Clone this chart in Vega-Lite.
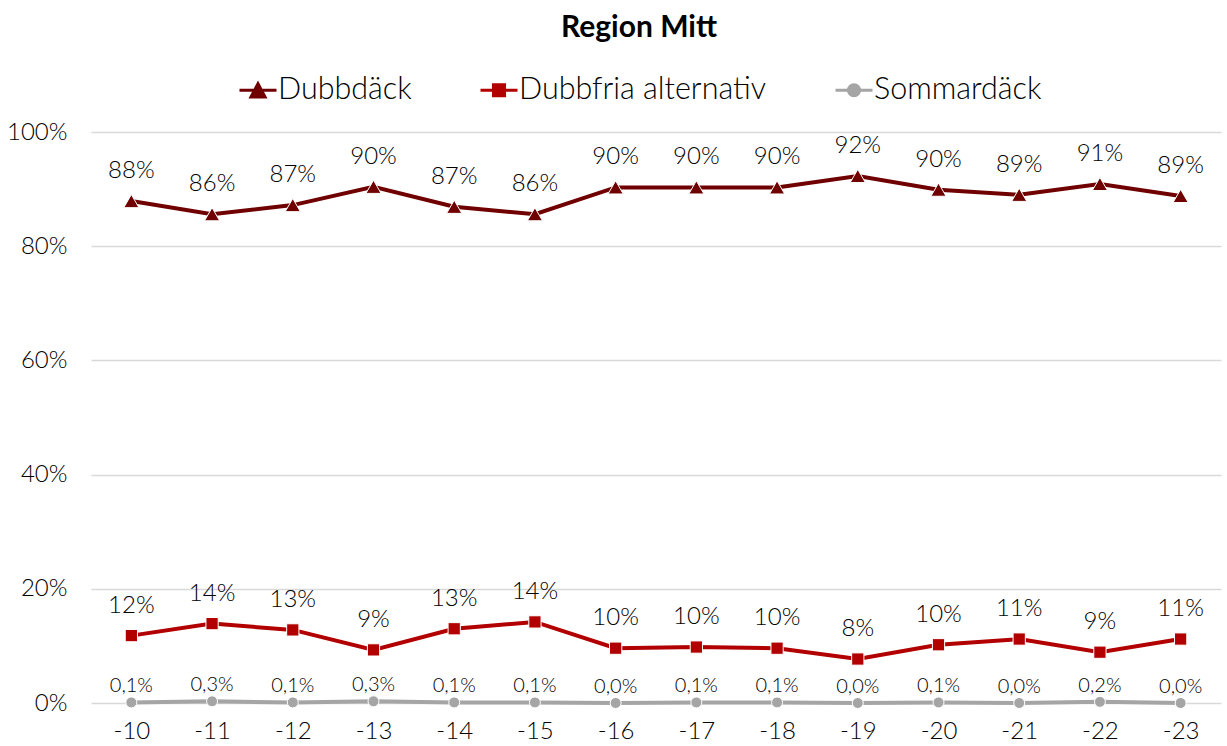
{
  "$schema": "https://vega.github.io/schema/vega-lite/v6.json",
  "width": 1130,
  "height": 571,
  "autosize": "none",
  "padding": {"left": 91, "top": 132, "right": 6, "bottom": 43},
  "background": "white",
  "config": {
    "locale": {"number": {"decimal": ",", "thousands": " ", "grouping": [3], "currency": ["", " kr"]}},
    "view": {"stroke": null},
    "font": "Lato"
  },
  "title": {
    "text": "Region Mitt",
    "fontSize": 30,
    "fontWeight": "bold",
    "font": "Lato",
    "color": "#000000",
    "anchor": "middle",
    "frame": "group",
    "dx": -17,
    "offset": 27
  },
  "data": {
    "values": [
      {"period": "-10", "series": "Dubbdäck", "value": 0.879},
      {"period": "-11", "series": "Dubbdäck", "value": 0.856},
      {"period": "-12", "series": "Dubbdäck", "value": 0.872},
      {"period": "-13", "series": "Dubbdäck", "value": 0.904},
      {"period": "-14", "series": "Dubbdäck", "value": 0.869},
      {"period": "-15", "series": "Dubbdäck", "value": 0.856},
      {"period": "-16", "series": "Dubbdäck", "value": 0.903},
      {"period": "-17", "series": "Dubbdäck", "value": 0.903},
      {"period": "-18", "series": "Dubbdäck", "value": 0.903},
      {"period": "-19", "series": "Dubbdäck", "value": 0.923},
      {"period": "-20", "series": "Dubbdäck", "value": 0.899},
      {"period": "-21", "series": "Dubbdäck", "value": 0.890},
      {"period": "-22", "series": "Dubbdäck", "value": 0.909},
      {"period": "-23", "series": "Dubbdäck", "value": 0.888},
      {"period": "-10", "series": "Dubbfria alternativ", "value": 0.118},
      {"period": "-11", "series": "Dubbfria alternativ", "value": 0.139},
      {"period": "-12", "series": "Dubbfria alternativ", "value": 0.128},
      {"period": "-13", "series": "Dubbfria alternativ", "value": 0.093},
      {"period": "-14", "series": "Dubbfria alternativ", "value": 0.130},
      {"period": "-15", "series": "Dubbfria alternativ", "value": 0.142},
      {"period": "-16", "series": "Dubbfria alternativ", "value": 0.096},
      {"period": "-17", "series": "Dubbfria alternativ", "value": 0.098},
      {"period": "-18", "series": "Dubbfria alternativ", "value": 0.096},
      {"period": "-19", "series": "Dubbfria alternativ", "value": 0.077},
      {"period": "-20", "series": "Dubbfria alternativ", "value": 0.102},
      {"period": "-21", "series": "Dubbfria alternativ", "value": 0.112},
      {"period": "-22", "series": "Dubbfria alternativ", "value": 0.089},
      {"period": "-23", "series": "Dubbfria alternativ", "value": 0.112},
      {"period": "-10", "series": "Sommardäck", "value": 0.001},
      {"period": "-11", "series": "Sommardäck", "value": 0.003},
      {"period": "-12", "series": "Sommardäck", "value": 0.001},
      {"period": "-13", "series": "Sommardäck", "value": 0.003},
      {"period": "-14", "series": "Sommardäck", "value": 0.001},
      {"period": "-15", "series": "Sommardäck", "value": 0.001},
      {"period": "-16", "series": "Sommardäck", "value": 0.0},
      {"period": "-17", "series": "Sommardäck", "value": 0.001},
      {"period": "-18", "series": "Sommardäck", "value": 0.001},
      {"period": "-19", "series": "Sommardäck", "value": 0.0},
      {"period": "-20", "series": "Sommardäck", "value": 0.001},
      {"period": "-21", "series": "Sommardäck", "value": 0.0},
      {"period": "-22", "series": "Sommardäck", "value": 0.002},
      {"period": "-23", "series": "Sommardäck", "value": 0.0}
    ]
  },
  "encoding": {
    "x": {
      "field": "period",
      "type": "ordinal",
      "scale": {"type": "point", "padding": 0.5, "domain": ["-10","-11","-12","-13","-14","-15","-16","-17","-18","-19","-20","-21","-22","-23"]},
      "axis": {"title": null, "domain": false, "ticks": false, "grid": false, "labelAngle": 0, "labelFontSize": 24, "labelFontWeight": 300, "labelColor": "#000000", "labelPadding": 16, "labelFont": "Lato"}
    },
    "y": {
      "field": "value",
      "type": "quantitative",
      "scale": {"domain": [0, 1], "nice": false},
      "axis": {"title": null, "domain": false, "ticks": false, "values": [0, 0.2, 0.4, 0.6, 0.8, 1], "format": ".0%", "gridColor": "#D9D9D9", "gridWidth": 1.3, "labelFontSize": 24, "labelFontWeight": 300, "labelColor": "#000000", "labelPadding": 24, "labelFont": "Lato"}
    },
    "color": {
      "field": "series",
      "type": "nominal",
      "scale": {"domain": ["Dubbdäck", "Dubbfria alternativ", "Sommardäck"], "range": ["#700000", "#B20000", "#A5A5A5"]},
      "legend": {
        "title": null,
        "orient": "none",
        "legendX": 147,
        "legendY": -62,
        "direction": "horizontal",
        "padding": 0,
        "symbolSize": 1369,
        "labelFontSize": 30.5,
        "labelFontWeight": 300,
        "labelFont": "Lato",
        "labelColor": "#000000",
        "labelOffset": 0,
        "labelLimit": 500,
        "columnPadding": 62,
        "symbolStrokeWidth": 3,
        "encode": {
          "symbols": {
            "update": {
              "shape": {"signal": "datum.value === 'Dubbdäck' ? 'M-1,0H1M-0.38,0.36L0,-0.36L0.38,0.36Z' : datum.value === 'Dubbfria alternativ' ? 'M-1,0H1M-0.3,-0.3H0.3V0.3H-0.3Z' : 'M-1,0H1M-0.3,0A0.3,0.3,0,1,0,0.3,0A0.3,0.3,0,1,0,-0.3,0Z'"},
              "fill": {"signal": "scale('color', datum.value)"},
              "stroke": {"signal": "scale('color', datum.value)"},
              "strokeWidth": {"value": 3},
              "opacity": {"value": 1}
            }
          }
        }
      }
    }
  },
  "layer": [
    {
      "mark": {"type": "line", "strokeWidth": 4}
    },
    {
      "transform": [{"filter": "datum.series === 'Dubbdäck'"}],
      "mark": {"type": "point", "shape": "triangle-up", "filled": true, "opacity": 1, "size": 230, "stroke": "white", "strokeWidth": 1}
    },
    {
      "transform": [{"filter": "datum.series === 'Dubbfria alternativ'"}],
      "mark": {"type": "point", "shape": "square", "filled": true, "opacity": 1, "size": 150, "stroke": "white", "strokeWidth": 1}
    },
    {
      "transform": [{"filter": "datum.series === 'Sommardäck'"}],
      "mark": {"type": "point", "shape": "circle", "filled": true, "opacity": 1, "size": 120, "stroke": "white", "strokeWidth": 1}
    },
    {
      "transform": [{"filter": "datum.series !== 'Sommardäck'"}],
      "mark": {"type": "text", "baseline": "alphabetic", "dy": -23, "fontSize": 24, "fontWeight": 300, "font": "Lato"},
      "encoding": {
        "text": {"field": "value", "type": "quantitative", "format": ".0%"},
        "color": {"value": "#000000"}
      }
    },
    {
      "transform": [{"filter": "datum.series === 'Sommardäck'"}],
      "mark": {"type": "text", "baseline": "alphabetic", "dy": -10, "fontSize": 20, "fontWeight": 300, "font": "Lato"},
      "encoding": {
        "text": {"field": "value", "type": "quantitative", "format": ".1%"},
        "color": {"value": "#000000"}
      }
    }
  ]
}
